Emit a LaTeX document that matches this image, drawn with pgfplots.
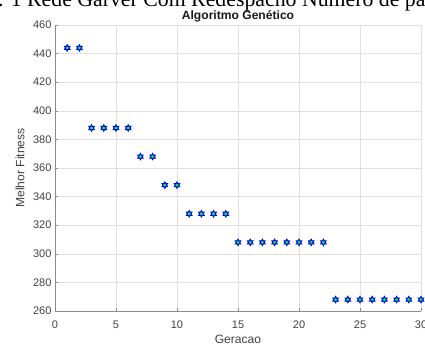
\documentclass[border=0pt]{standalone}
\usepackage{pgfplots}
\pgfplotsset{compat=1.18}
\usepackage{fontspec}
\setmainfont{Liberation Sans}
\newfontfamily\serifdoc{Liberation Serif}
\definecolor{mtxt}{gray}{0.25}
\definecolor{mgreen}{rgb}{0,1,0}
\pgfdeclareplotmark{hexa}{%
  \pgfpathmoveto{\pgfpointpolar{90}{\pgfplotmarksize}}%
  \pgfpathlineto{\pgfpointpolar{120}{0.577\pgfplotmarksize}}%
  \pgfpathlineto{\pgfpointpolar{150}{\pgfplotmarksize}}%
  \pgfpathlineto{\pgfpointpolar{180}{0.577\pgfplotmarksize}}%
  \pgfpathlineto{\pgfpointpolar{210}{\pgfplotmarksize}}%
  \pgfpathlineto{\pgfpointpolar{240}{0.577\pgfplotmarksize}}%
  \pgfpathlineto{\pgfpointpolar{270}{\pgfplotmarksize}}%
  \pgfpathlineto{\pgfpointpolar{300}{0.577\pgfplotmarksize}}%
  \pgfpathlineto{\pgfpointpolar{330}{\pgfplotmarksize}}%
  \pgfpathlineto{\pgfpointpolar{0}{0.577\pgfplotmarksize}}%
  \pgfpathlineto{\pgfpointpolar{30}{\pgfplotmarksize}}%
  \pgfpathlineto{\pgfpointpolar{60}{0.577\pgfplotmarksize}}%
  \pgfpathclose
  \pgfusepathqfillstroke}
\begin{document}
\begin{tikzpicture}
\useasboundingbox (0,0) rectangle (425pt,346pt);
\clip (0,0) rectangle (425pt,346pt);
\node[anchor=base west, inner sep=0pt, font=\serifdoc\fontsize{21.8}{26}\selectfont] at (-13pt,339.5pt) {4. 1 Rede Garver Com Redespacho Número de parâmetros};
\begin{axis}[
  at={(55pt,35pt)}, anchor=south west,
  width=366pt, height=286pt, scale only axis,
  xmin=0, xmax=30, ymin=260, ymax=460,
  xtick={0,5,...,30}, ytick={260,280,...,460},
  axis x line*=bottom, axis y line*=left,
  axis line style={-, black!45, line width=0.6pt},
  tick align=inside, major tick length=3pt,
  tick style={black!45, line width=0.5pt},
  grid=major, major grid style={black!12, line width=0.5pt},
  /pgf/number format/assume math mode=true,
  tick label style={font=\fontsize{11}{13}\selectfont, text=mtxt},
  xticklabel style={anchor=base, yshift=-17pt},
  label style={font=\fontsize{12.1}{14}\selectfont, text=mtxt},
  xlabel={Geracao}, ylabel={Melhor Fitness},
  xlabel style={at={(axis description cs:0.5,-0.0979)}, anchor=center},
  ylabel style={at={(axis description cs:-0.0956,0.5)}, anchor=center},
  title={Algoritmo Genético},
  every axis title/.style={at={(axis description cs:0.5,1)}, anchor=base, yshift=6pt, font=\bfseries\fontsize{12.1}{14}\selectfont, text=black!90},
]
\addplot[only marks, mark=hexa, mark size=3.1pt, mark options={draw=blue, fill=mgreen, line width=1pt}] table {
x y
1 444
2 444
3 388
4 388
5 388
6 388
7 368
8 368
9 348
10 348
11 328
12 328
13 328
14 328
15 308
16 308
17 308
18 308
19 308
20 308
21 308
22 308
23 268
24 268
25 268
26 268
27 268
28 268
29 268
30 268
};
\end{axis}
\end{tikzpicture}
\end{document}
